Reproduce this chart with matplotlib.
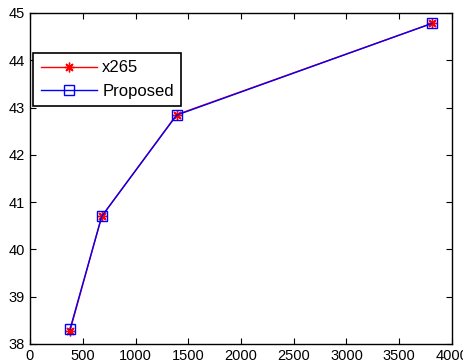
import matplotlib.pyplot as plt

bitrate = [379, 680, 1390, 3810]
psnr_x265 = [38.28, 40.70, 42.85, 44.78]
psnr_proposed = [38.31, 40.70, 42.84, 44.78]
x_ticks = [0, 500, 1000, 1500, 2000, 2500, 3000, 3500, 4000]
y_ticks = [38, 39, 40, 41, 42, 43, 44, 45]

plt.rcParams['font.family'] = ['Liberation Sans', 'DejaVu Sans']

fig = plt.figure(figsize=(4.64, 3.62), dpi=100)
ax = fig.add_axes([30 / 464, 1 - 344 / 362, 422 / 464, 331 / 362])

ax.plot(bitrate, psnr_x265, color='red', marker=(8, 2, 0), markersize=7, mew=1,
        lw=1, label='x265')
ax.plot(bitrate, psnr_proposed, color='blue', marker='s', markersize=7, mew=1, lw=1,
        markerfacecolor='none', label='Proposed')

ax.set_xlim(0, 4000)
ax.set_ylim(38, 45)
ax.set_xticks(x_ticks)
ax.set_yticks(y_ticks)
ax.tick_params(direction='in', top=True, right=True, labelsize=10.5, length=4)
for s in ax.spines.values():
    s.set_linewidth(1)

leg = ax.legend(loc='upper left', bbox_to_anchor=(3 / 422, 1 - 40 / 331), fontsize=12,
                fancybox=False, edgecolor='black', framealpha=1, borderaxespad=0,
                handlelength=3.4, borderpad=0.45, labelspacing=0.5, handletextpad=0.3)
leg.get_frame().set_linewidth(1.2)

fig.savefig('out.png', dpi=100)
